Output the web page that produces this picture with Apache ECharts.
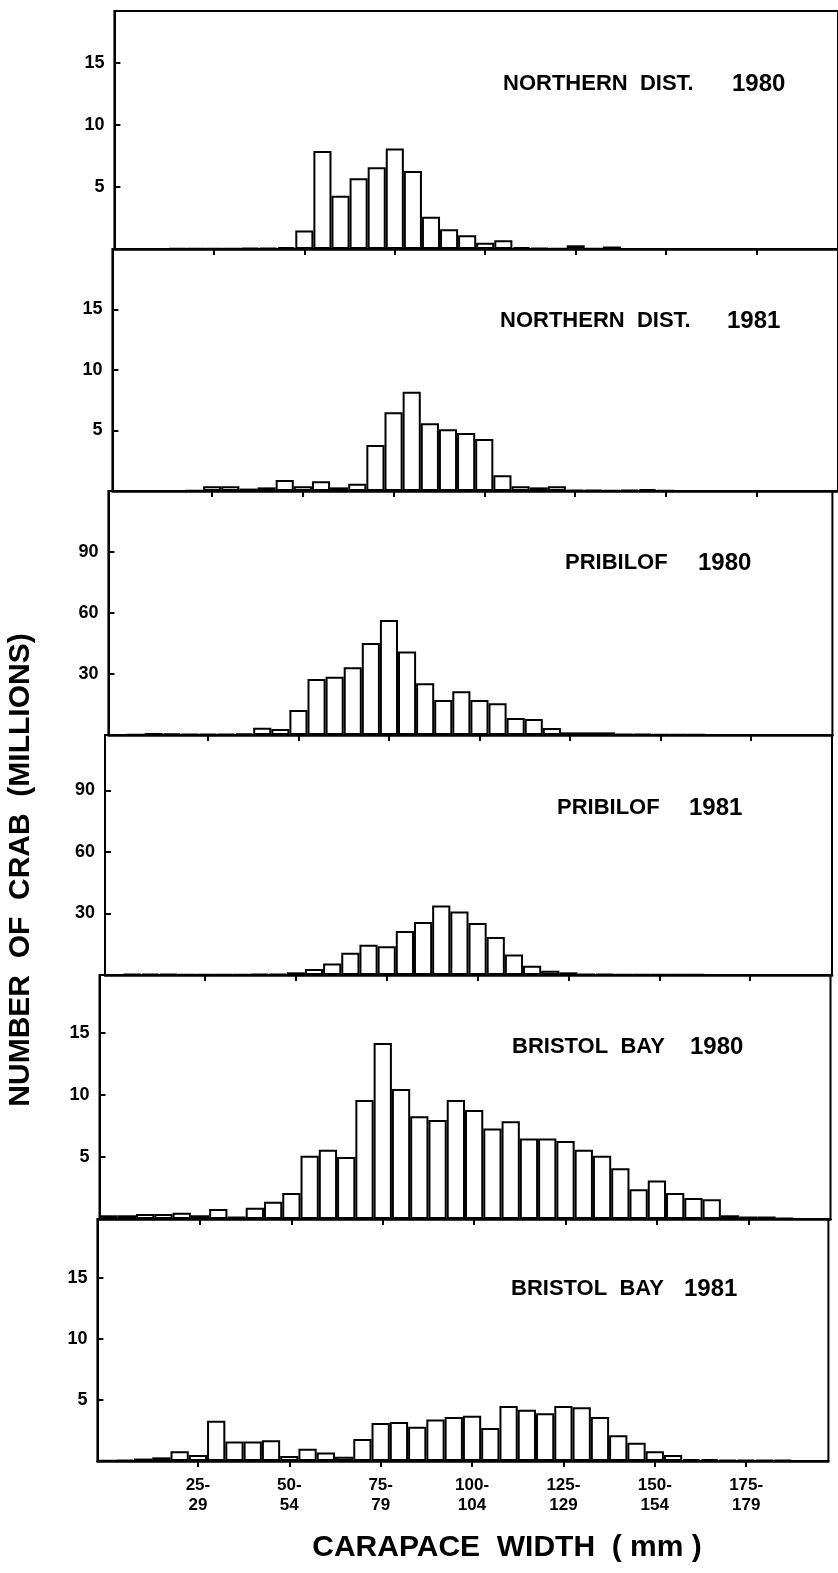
<!DOCTYPE html>
<html><head><meta charset="utf-8">
<script src="https://cdn.jsdelivr.net/npm/echarts@6/dist/echarts.min.js"></script>
<style>html,body{margin:0;padding:0;background:#fff}#c{width:838px;height:1573px}</style>
</head><body><div id="c"></div>
<script>
// ---- DATA ----
const categories = ['0-4','5-9','10-14','15-19','20-24','25-29','30-34','35-39','40-44','45-49',
  '50-54','55-59','60-64','65-69','70-74','75-79','80-84','85-89','90-94','95-99',
  '100-104','105-109','110-114','115-119','120-124','125-129','130-134','135-139','140-144','145-149',
  '150-154','155-159','160-164','165-169','170-174','175-179','180-184','185-189','190-194','195-199'];
const xTickLabels = ['25-29','50-54','75-79','100-104','125-129','150-154','175-179'];
const yTicksSmall = [5, 10, 15];
const yTicksLarge = [30, 60, 90];

const northern1980 = [0,0,0,0.05,0.05,0.05,0.05,0.1,0.1,0.15,
  1.5,7.9,4.3,5.7,6.6,8.1,6.3,2.6,1.6,1.1,
  0.5,0.7,0.15,0.1,0.05,0.3,0.05,0.2,0,0,
  0,0,0,0,0,0,0,0,0,0];
const northern1981 = [0,0,0,0,0.05,0.4,0.4,0.2,0.3,0.9,
  0.4,0.8,0.3,0.6,3.8,6.5,8.2,5.6,5.1,4.8,
  4.3,1.3,0.4,0.3,0.4,0.1,0.1,0.05,0.1,0.15,
  0.05,0,0,0,0,0,0,0,0,0];
const pribilof1980 = [0,0.3,1.0,0.8,0.4,0.5,0.5,0.7,3.6,3.0,
  12.3,27.5,28.7,33.3,45.2,56.6,41.1,25.4,17.2,21.5,
  17.2,15.6,8.4,7.9,3.4,1.3,1.3,1.3,0.5,0.4,
  0.3,0.2,0.2,0.1,0.1,0,0,0,0,0];
const pribilof1981 = [0,0.5,0.6,0.5,0.3,0.3,0.3,0.3,0.4,0.6,
  1.3,2.9,5.6,10.8,14.8,14.0,21.5,25.8,33.9,31.0,
  25.3,18.5,10.0,4.5,2.1,1.3,0.6,0.4,0.3,0.3,
  0.2,0.2,0.2,0.1,0.1,0,0,0,0,0];
const bristol1980 = [0.3,0.3,0.4,0.4,0.5,0.3,0.8,0.2,0.9,1.4,
  2.1,5.1,5.6,5.0,9.6,14.2,10.5,8.3,8.0,9.6,
  8.8,7.3,7.9,6.5,6.5,6.3,5.6,5.1,4.1,2.4,
  3.1,2.1,1.7,1.6,0.3,0.2,0.2,0.1,0,0];
const bristol1981 = [0.05,0.1,0.2,0.3,0.8,0.5,3.3,1.6,1.6,1.7,
  0.4,1.0,0.7,0.35,1.8,3.1,3.2,2.8,3.4,3.6,
  3.7,2.7,4.5,4.2,3.9,4.5,4.4,3.6,2.1,1.5,
  0.8,0.5,0.15,0.15,0.1,0.1,0.1,0.1,0,0];

const panelNames = ['NORTHERN  DIST.', 'NORTHERN  DIST.', 'PRIBILOF', 'PRIBILOF', 'BRISTOL  BAY', 'BRISTOL  BAY'];
const panelYears = ['1980', '1981', '1980', '1981', '1980', '1981'];
const seriesData = [northern1980, northern1981, pribilof1980, pribilof1981, bristol1980, bristol1981];
const yTickSets = [yTicksSmall, yTicksSmall, yTicksLarge, yTicksLarge, yTicksSmall, yTicksSmall];

// ---- LAYOUT (positions / styles) ----
const layout = [
  {left:114.4, width:732, top:11,  base:249,  max:19.2, interval:5,  nx:503, yx:732, ty:84},
  {left:112.4, width:732, top:249, base:491,  max:20,   interval:5,  nx:500, yx:727, ty:321},
  {left:108.4, width:724, top:491, base:735,  max:120,  interval:30, nx:565, yx:698, ty:563},
  {left:105,   width:727, top:735, base:975,  max:117,  interval:30, nx:557, yx:689, ty:808},
  {left:99.5,  width:731, top:975, base:1219, max:19.7, interval:5,  nx:512, yx:690, ty:1047},
  {left:97.4,  width:731, top:1219,base:1461, max:19.8, interval:5,  nx:511, yx:684, ty:1289}
];
const FONT = '"Liberation Sans", Arial, Helvetica, sans-serif';

const grids = [], xAxes = [], yAxes = [], series = [], graphics = [];
layout.forEach((p, i) => {
  grids.push({left:p.left, width:p.width, top:p.top, height:p.base - p.top,
    show:true, borderColor:'#000', borderWidth:2, containLabel:false});
  const isLast = i === layout.length - 1;
  xAxes.push({type:'category', gridIndex:i, data:categories, boundaryGap:true,
    axisLine:{show:true, lineStyle:{color:'#000', width:2.5}},
    axisTick:{show:true, alignWithLabel:true, length:6, lineStyle:{color:'#000', width:2},
      interval:(idx, val) => xTickLabels.indexOf(categories[idx]) >= 0},
    axisLabel:{show:isLast, interval:(idx, val) => xTickLabels.indexOf(val) >= 0,
      formatter:v => v.replace('-', '-\n'), color:'#000', fontFamily:FONT, fontWeight:'bold',
      fontSize:17, lineHeight:20, margin:14},
    splitLine:{show:false}});
  const ticks = yTickSets[i];
  yAxes.push({type:'value', gridIndex:i, min:0, max:p.max, interval:p.interval,
    axisLine:{show:true, lineStyle:{color:'#000', width:2}},
    axisTick:{show:true, inside:true, length:6, lineStyle:{color:'#000', width:2}},
    axisLabel:{formatter:v => (ticks.indexOf(v) >= 0 ? String(v) : ''), color:'#000',
      fontFamily:FONT, fontWeight:'bold', fontSize:18, margin:10, showMaxLabel:false},
    splitLine:{show:false}});
  series.push({type:'bar', xAxisIndex:i, yAxisIndex:i, data:seriesData[i], barWidth:'100%',
    barCategoryGap:'0%', silent:true,
    itemStyle:{color:'#fff', borderColor:'#000', borderWidth:2}});
  graphics.push({type:'text', x:p.nx, y:p.ty, style:{text:panelNames[i], fill:'#000',
    font:'bold 22px ' + FONT, textVerticalAlign:'middle', verticalAlign:'middle'}});
  graphics.push({type:'text', x:p.yx, y:p.ty, style:{text:panelYears[i], fill:'#000',
    font:'bold 24px ' + FONT, textVerticalAlign:'middle', verticalAlign:'middle'}});
});
graphics.push({type:'text', x:21, y:870, rotation:Math.PI/2,
  style:{text:'NUMBER  OF  CRAB  (MILLIONS)', fill:'#000', font:'bold 30px ' + FONT,
    textAlign:'center', align:'center', textVerticalAlign:'middle', verticalAlign:'middle'}});
graphics.push({type:'text', x:507, y:1548,
  style:{text:'CARAPACE  WIDTH  ( mm )', fill:'#000', font:'bold 30px ' + FONT,
    textAlign:'center', align:'center', textVerticalAlign:'middle', verticalAlign:'middle'}});

const chart = echarts.init(document.getElementById('c'), null, {renderer:'canvas'});
chart.setOption({
  animation:false, backgroundColor:'#fff',
  grid:grids, xAxis:xAxes, yAxis:yAxes, series:series, graphic:graphics
});
</script></body></html>
